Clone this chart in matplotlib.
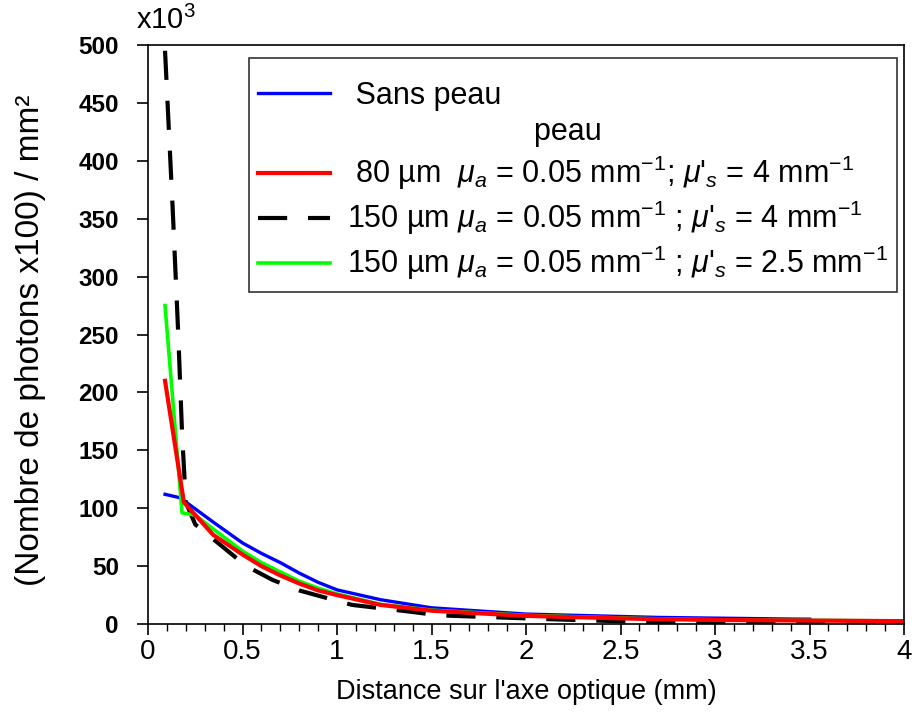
import matplotlib
matplotlib.use('Agg')
import matplotlib.pyplot as plt
from matplotlib.lines import Line2D
from matplotlib.ticker import MultipleLocator, FuncFormatter

plt.rcParams['font.family'] = ['Liberation Sans', 'DejaVu Sans']
plt.rcParams['mathtext.fontset'] = 'custom'
plt.rcParams['mathtext.rm'] = 'Liberation Sans'
plt.rcParams['mathtext.it'] = 'Liberation Sans:italic'

# data (y in units of 10^3)
x_sans = [0.09, 0.17, 0.345, 0.5, 0.6, 0.7, 0.8, 0.9, 1.0, 1.23, 1.5, 2.0, 2.7, 3.4, 3.5]
y_sans = [112, 109, 88, 70, 61, 53, 44, 36, 29.5, 21, 14, 8.6, 5.7, 4.3, 4.2]

x_80 = [0.09, 0.19, 0.345, 0.5, 0.6, 0.7, 0.8, 0.9, 1.0, 1.23, 1.5, 2.0, 2.6, 3.0, 4.0]
y_80 = [210, 105, 77, 60, 50, 42, 35, 29, 25, 16.5, 11.5, 7, 4.5, 3.5, 2.5]

x_150_4 = [0.09, 0.13, 0.16, 0.18, 0.2, 0.25, 0.52, 0.66, 0.8, 0.945, 1.08, 1.37, 1.54, 2.16, 2.58, 3.0, 4.0]
y_150_4 = [495, 360, 250, 165, 105, 86, 50, 38, 29, 22.5, 16.5, 11, 7.5, 4, 2, 1.5, 1]

x_150_25 = [0.09, 0.18, 0.25, 0.345, 0.5, 0.6, 0.7, 0.8, 0.9, 1.0, 1.23, 1.5, 2.0, 2.6, 3.0, 4.0]
y_150_25 = [275, 96, 94, 82, 63, 53, 45, 37, 31, 26, 17, 12, 7.5, 4.8, 3.7, 2.6]

labels = [' Sans peau',
          '                      peau',
          " 80 µm  $\\mu_a$ = 0.05 mm$^{-1}$; $\\mu$'$_s$ = 4 mm$^{-1}$",
          "150 µm $\\mu_a$ = 0.05 mm$^{-1}$ ; $\\mu$'$_s$ = 4 mm$^{-1}$",
          "150 µm $\\mu_a$ = 0.05 mm$^{-1}$ ; $\\mu$'$_s$ = 2.5 mm$^{-1}$"]

fig = plt.figure(figsize=(9.16, 7.22), dpi=100)
ax = fig.add_axes([0.1616, 0.1357, 0.8254, 0.802])

l_blue, = ax.plot(x_sans, y_sans, color='#0000ff', lw=2.4)
l_black, = ax.plot(x_150_4, y_150_4, color='black', lw=3, dashes=(7, 5))
l_green, = ax.plot(x_150_25, y_150_25, color='#00ff00', lw=2.6)
l_red, = ax.plot(x_80, y_80, color='#ff0000', lw=3)

ax.set_xlim(0, 4)
ax.set_ylim(0, 500)
ax.xaxis.set_major_locator(MultipleLocator(0.5))
ax.xaxis.set_minor_locator(MultipleLocator(0.1))
ax.yaxis.set_major_locator(MultipleLocator(50))
ax.xaxis.set_major_formatter(FuncFormatter(lambda v, p: f'{v:g}'))
ax.tick_params(axis='x', which='major', length=8, width=1.2, labelsize=20, pad=3)
ax.tick_params(axis='x', which='minor', length=5, width=1)
ax.tick_params(axis='y', which='major', length=8, width=1.2, labelsize=17.5, pad=13)
for lab in ax.get_yticklabels():
    lab.set_fontweight('bold')
for s in ax.spines.values():
    s.set_linewidth(1.2)

ax.set_xlabel("Distance sur l'axe optique (mm)", fontsize=19.5)
ax.xaxis.set_label_coords(0.5, -0.117)
ax.xaxis.label.set_va('center')
ax.set_ylabel('(Nombre de photons x100) / mm²', fontsize=24)
ax.yaxis.set_label_coords(-0.155, 0.49)
ax.yaxis.label.set_va('center')
fig.text(0.149, 0.952, 'x10$^3$', fontsize=21, ha='left', va='bottom')

blank = Line2D([], [], color='none')
# tiny blank title only to push the rows down inside the frame
leg = ax.legend([l_blue, blank, l_red, l_black, l_green], labels,
                loc='upper right', bbox_to_anchor=(0.991, 0.978), borderaxespad=0,
                fontsize=22, handlelength=2.36, handletextpad=0.55,
                labelspacing=0.22, frameon=True, fancybox=False, edgecolor='black',
                borderpad=0.3, title=' ', title_fontsize=6)
leg.get_frame().set_linewidth(1.2)

fig.savefig('out.png', dpi=100)
